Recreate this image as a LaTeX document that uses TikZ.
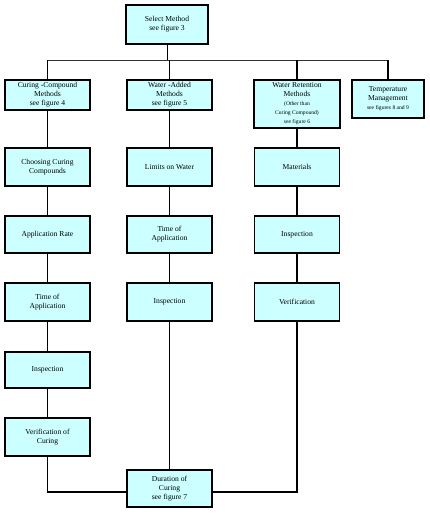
\documentclass[tikz,border=0pt]{standalone}
\usepackage{fontspec}
\setmainfont{Liberation Serif}
\usepackage{xcolor}
\usetikzlibrary{positioning}
\definecolor{boxfill}{HTML}{CCFFFF}

\begin{document}
\begin{tikzpicture}[x=1pt, y=-1pt, font=\fontsize{7.6}{9}\selectfont]
    \tikzstyle{block} = [rectangle, draw=black, line width=1.6pt, fill=boxfill, align=center, inner sep=0pt, minimum width=85pt, minimum height=38pt]
    \tikzstyle{link} = [line width=1.3pt]
    \tikzstyle{thin} = [line width=0.6pt]
    \tikzstyle{bus} = [line width=0.9pt, black!80]
    \newcommand{\smalltxt}{\fontsize{5.6}{7}\selectfont}

    \useasboundingbox (0,0) rectangle (430,514);

    % top
    \node[block, minimum width=82pt, minimum height=39pt] (sel) at (167,24.5) {Select Method\\see figure 3};

    % methods
    \node[block, minimum height=30pt] (cc) at (47.5,95) {Curing\ -Compound\\Methods\\see figure 4};
    \node[block, minimum height=30pt] (wa) at (169.5,95) {Water\ -Added\\Methods\\see figure 5};
    \node[block, minimum width=86pt, minimum height=48pt] (wr) at (297,104) {Water Retention\\Methods\\{\smalltxt (Other than}\\{\smalltxt Curing Compound)}\\{\smalltxt see figure 6}};
    \node[block, minimum width=72pt, minimum height=38pt] (tm) at (388,99) {Temperature\\Management\\{\smalltxt see figures 8 and 9}};

    % curing compound column
    \node[block] (cc2) at (47.5,167) {Choosing Curing\\Compounds};
    \node[block, minimum height=37pt] (cc3) at (47.5,234.5) {Application Rate};
    \node[block] (cc4) at (47.5,302) {Time of\\Application};
    \node[block, minimum height=36pt] (cc5) at (47.5,370) {Inspection};
    \node[block] (cc6) at (47.5,437) {Verification of\\Curing};

    % water added column
    \node[block] (wa2) at (169.5,167) {Limits on Water};
    \node[block, minimum height=37pt] (wa3) at (169.5,234.5) {Time of\\Application};
    \node[block] (wa4) at (169.5,302) {Inspection};

    % water retention column
    \node[block] (wr2) at (297,167) {Materials};
    \node[block, minimum height=37pt] (wr3) at (297,234.5) {Inspection};
    \node[block] (wr4) at (297,302) {Verification};

    % bottom
    \node[block, minimum height=37pt] (dur) at (169.5,488.5) {Duration of\\Curing\\see figure 7};

    \coordinate (busL) at (47.5,60);
    \coordinate (busR) at (388,60);
    \coordinate (botL) at (47.5,492);
    \coordinate (botR) at (297,492);

    \draw[bus] (busL) -- (busR);
    \draw[thin] (sel.south) -- (sel.south |- busL);
    \draw[link] (cc.north |- busL) -- (cc.north);
    \draw[thin] (wa.north |- busL) -- (wa.north);
    \draw[link] (wr.north |- busL) -- (wr.north);
    \draw[link] (busR) -- (tm.north);

    \draw[link] (cc) -- (cc2);
    \draw[link] (cc2) -- (cc3);
    \draw[link] (cc3) -- (cc4);
    \draw[link] (cc4) -- (cc5);
    \draw[link] (cc5) -- (cc6);
    \draw[link] (cc6.south) -- (botL) -- (botL -| dur.west);

    \draw[thin] (wa) -- (wa2);
    \draw[thin] (wa2) -- (wa3);
    \draw[thin] (wa3) -- (wa4);
    \draw[thin] (wa4) -- (dur);

    \draw[link] (wr) -- (wr2);
    \draw[link] (wr2) -- (wr3);
    \draw[link] (wr3) -- (wr4);
    \draw[link] (wr4.south) -- (botR) -- (botR -| dur.east);
\end{tikzpicture}
\end{document}
